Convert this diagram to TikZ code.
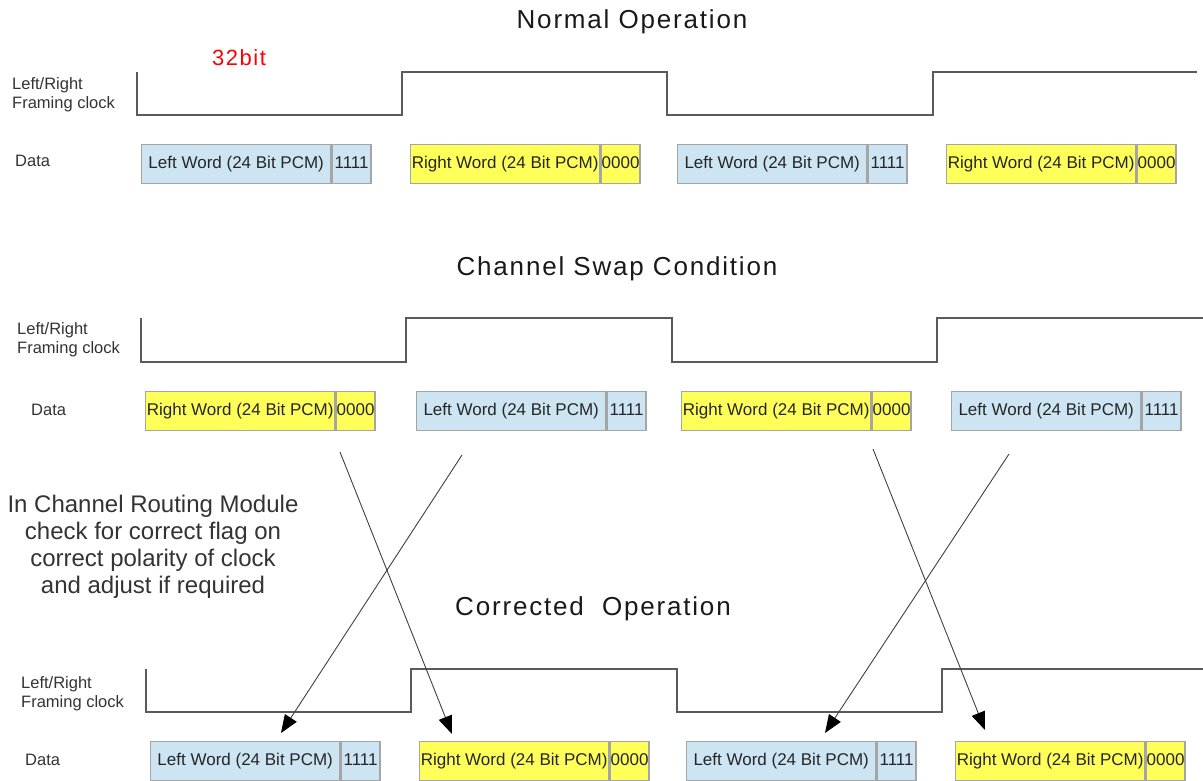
\documentclass[tikz,border=0pt]{standalone}
\usepackage{fontspec}
\setmainfont{Liberation Sans}
\newfontfamily\wideface{Liberation Sans}[LetterSpace=7]
\usepackage{xcolor}
\usetikzlibrary{positioning}
\usetikzlibrary{arrows.meta}
\definecolor{leftBlue}{RGB}{205,228,242}
\definecolor{rightYellow}{RGB}{255,255,90}
\definecolor{boxGray}{RGB}{165,165,165}
\definecolor{clockGray}{RGB}{90,90,90}

\begin{document}
\begin{tikzpicture}[x=1pt,y=-1pt,
  word/.style={draw=boxGray, line width=1.4pt, minimum height=39pt, inner sep=0pt,
    text height=12.5pt, text depth=3.5pt,
    font=\fontsize{17}{20}\selectfont, text=black!85, anchor=north west},
  leftword/.style={word, fill=leftBlue, minimum width=189pt},
  rightword/.style={word, fill=rightYellow, minimum width=189pt},
  flag/.style={word, minimum width=39pt},
  clock/.style={draw=clockGray, line width=1.4pt},
  caption/.style={font=\wideface\fontsize{26}{30}\selectfont, text=black!90},
  sidelabel/.style={font=\fontsize{16.5}{19}\selectfont, text=black!80, align=left, inner sep=0pt},
  conn/.style={draw=black!75, line width=0.9pt, -{Triangle[length=18pt,width=14pt,color=black]}},
]
\useasboundingbox (0,0) rectangle (1203,780);

% normal operation
\node [caption] (title1) at (632,22) {Normal Operation};
\node [font=\wideface\fontsize{22}{26}\selectfont, text=red] (bits) at (239,58) {32bit};
\node [sidelabel, anchor=north west] (clk1) at (12,77) {Left/Right\\Framing clock};
\node [sidelabel, anchor=west] (data1) at (15,161) {Data};
\draw [clock] (137,72) -- (137,115) -- (402,115) -- (402,72) -- (667,72) -- (667,115)
  -- (933,115) -- (933,72) -- (1197,72);
\node [leftword] (L1a) at (141,144) {Left Word (24 Bit PCM)};
\node [flag, fill=leftBlue, right=0pt of L1a] (F1a) {1111};
\node [rightword] (R1a) at (410,144) {Right Word (24 Bit PCM)};
\node [flag, fill=rightYellow, right=0pt of R1a] (G1a) {0000};
\node [leftword] (L1b) at (677,144) {Left Word (24 Bit PCM)};
\node [flag, fill=leftBlue, right=0pt of L1b] (F1b) {1111};
\node [rightword] (R1b) at (946,144) {Right Word (24 Bit PCM)};
\node [flag, fill=rightYellow, right=0pt of R1b] (G1b) {0000};

% channel swap
\node [caption] (title2) at (617,269) {Channel Swap Condition};
\node [sidelabel, anchor=north west] (clk2) at (17,322) {Left/Right\\Framing clock};
\node [sidelabel, anchor=west] (data2) at (31,410) {Data};
\draw [clock] (141,318) -- (141,362) -- (406,362) -- (406,318) -- (672,318) -- (672,362)
  -- (937,362) -- (937,318) -- (1203,318);
\node [rightword] (R2a) at (145,391) {Right Word (24 Bit PCM)};
\node [flag, fill=rightYellow, right=0pt of R2a] (G2a) {0000};
\node [leftword] (L2a) at (416,391) {Left Word (24 Bit PCM)};
\node [flag, fill=leftBlue, right=0pt of L2a] (F2a) {1111};
\node [rightword] (R2b) at (681,391) {Right Word (24 Bit PCM)};
\node [flag, fill=rightYellow, right=0pt of R2b] (G2b) {0000};
\node [leftword] (L2b) at (951,391) {Left Word (24 Bit PCM)};
\node [flag, fill=leftBlue, right=0pt of L2b] (F2b) {1111};

\node [align=center, font=\fontsize{24}{27}\selectfont, text=black!80] (note) at (153,547)
  {In Channel Routing Module\\check for correct flag on\\correct polarity of clock\\and adjust if required};

% corrected operation
\node [caption] (title3) at (593,609) {Corrected\ \ Operation};
\node [sidelabel, anchor=north west] (clk3) at (21,676) {Left/Right\\Framing clock};
\node [sidelabel, anchor=west] (data3) at (25,760) {Data};
\draw [clock] (146,669) -- (146,712) -- (411,712) -- (411,669) -- (677,669) -- (677,712)
  -- (942,712) -- (942,669) -- (1203,669);
\node [leftword] (L3a) at (150,741) {Left Word (24 Bit PCM)};
\node [flag, fill=leftBlue, right=0pt of L3a] (F3a) {1111};
\node [rightword] (R3a) at (419,741) {Right Word (24 Bit PCM)};
\node [flag, fill=rightYellow, right=0pt of R3a] (G3a) {0000};
\node [leftword] (L3b) at (686,741) {Left Word (24 Bit PCM)};
\node [flag, fill=leftBlue, right=0pt of L3b] (F3b) {1111};
\node [rightword] (R3b) at (955,741) {Right Word (24 Bit PCM)};
\node [flag, fill=rightYellow, right=0pt of R3b] (G3b) {0000};

% swap arrows
\coordinate (fromR2a) at (340,452);
\coordinate (toR3a) at (452,734);
\coordinate (fromL2a) at (462,455);
\coordinate (toL3a) at (281,733);
\coordinate (fromR2b) at (873,449);
\coordinate (toR3b) at (985,730);
\coordinate (fromL2b) at (1009,454);
\coordinate (toL3b) at (825,733);
\draw [conn] (fromR2a) -- (toR3a);
\draw [conn] (fromL2a) -- (toL3a);
\draw [conn] (fromR2b) -- (toR3b);
\draw [conn] (fromL2b) -- (toL3b);
\end{tikzpicture}
\end{document}
